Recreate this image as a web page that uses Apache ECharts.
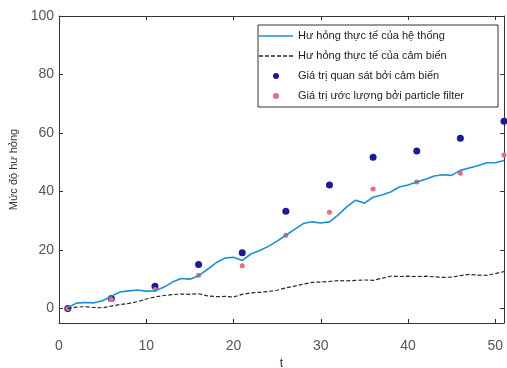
<!DOCTYPE html>
<html>
<head>
<meta charset="utf-8">
<script src="https://cdn.jsdelivr.net/npm/echarts@6/dist/echarts.min.js"></script>
<style>
    html, body { margin: 0; padding: 0; background: #fff; }
    #chart { width: 507px; height: 368px; }
</style>
</head>
<body>
<div id="chart"></div>
<script>
// thời gian (t)
var tAll = [1, 2, 3, 4, 5, 6, 7, 8, 9, 10, 11, 12, 13, 14, 15, 16, 17, 18, 19, 20,
    21, 22, 23, 24, 25, 26, 27, 28, 29, 30, 31, 32, 33, 34, 35, 36, 37, 38, 39, 40,
    41, 42, 43, 44, 45, 46, 47, 48, 49, 50, 51];
// hư hỏng thực tế của hệ thống
var heThong = [0.2, 1.8, 2.0, 1.9, 2.6, 4.2, 5.6, 6.0, 6.3, 5.9, 6.0, 7.2, 9.0, 10.2, 10.0,
    11.2, 13.3, 15.6, 17.2, 17.5, 16.4, 18.6, 19.8, 21.2, 23.0, 25.0, 27.0, 29.0, 29.6, 29.2,
    29.6, 32.0, 34.8, 37.0, 36.0, 38.0, 38.8, 39.8, 41.5, 42.2, 43.2, 44.2, 45.3, 45.7, 45.5,
    47.2, 48.0, 48.8, 49.8, 49.8, 50.6];
// hư hỏng thực tế của cảm biến
var camBien = [0, 0.4, 0.6, 0.3, 0.2, 0.8, 1.3, 1.7, 2.3, 3.2, 3.9, 4.4, 4.7, 4.9, 4.8,
    5.0, 4.3, 4.0, 4.1, 3.9, 4.8, 5.3, 5.5, 5.8, 6.2, 7.0, 7.6, 8.3, 8.9, 9.0,
    9.2, 9.5, 9.4, 9.6, 9.7, 9.6, 10.3, 11.0, 10.9, 11.0, 10.9, 11.0, 10.8, 10.6, 10.7,
    11.2, 11.6, 11.4, 11.3, 11.9, 12.6];
// thời điểm quan sát
var tObs = [1, 6, 11, 16, 21, 26, 31, 36, 41, 46, 51];
var quanSat = [0, 3.4, 7.6, 15.0, 19.0, 33.2, 42.2, 51.7, 53.8, 58.2, 64.0];
var uocLuong = [0, 3.0, 6.5, 11.3, 14.6, 25.0, 32.9, 40.8, 43.2, 46.2, 52.5];

var xTicks = [0, 10, 20, 30, 40, 50];
var yTicks = [0, 20, 40, 60, 80, 100];

var tenSeries = [
    'Hư hỏng thực tế của hệ thống',
    'Hư hỏng thực tế của cảm biến',
    'Giá trị quan sát bởi cảm biến',
    'Giá trị ước lượng bởi particle filter'
];

function ghep(xs, ys) {
    return xs.map(function (x, i) { return [x, ys[i]]; });
}

var mauTruc = '#333';
var fontChu = 'Liberation Sans, Arial, sans-serif';

// biểu tượng chú giải cho hai đường
var iconLien = 'path://M0,0L34,0L34,1.6L0,1.6Z';
var iconNetDut = 'path://M0,0h4v1.3h-4z M6,0h4v1.3h-4z M12,0h4v1.3h-4z M18,0h4v1.3h-4z M24,0h4v1.3h-4z M30,0h4v1.3h-4z';

var myChart = echarts.init(document.getElementById('chart'));

var option = {
    animation: false,
    backgroundColor: '#fff',
    grid: { left: 59, right: 3, top: 16, bottom: 45, outerBoundsMode: 'none' },
    graphic: [{
        type: 'rect',
        z: 5,
        shape: { x: 258, y: 25, width: 240, height: 82 },
        style: { fill: '#fff', stroke: '#333', lineWidth: 1 }
    }],
    legend: {
        z: 6,
        orient: 'vertical',
        left: 259,
        top: 30,
        padding: 0,
        itemWidth: 34,
        itemHeight: 6,
        itemGap: 8,
        textStyle: { fontSize: 11, lineHeight: 12, color: '#222', fontFamily: fontChu },
        data: [
            { name: tenSeries[0], icon: iconLien },
            { name: tenSeries[1], icon: iconNetDut },
            { name: tenSeries[2] },
            { name: tenSeries[3] }
        ]
    },
    xAxis: [{
        type: 'value',
        min: 0,
        max: 51,
        name: 't',
        nameLocation: 'middle',
        nameGap: 31,
        nameTextStyle: { fontSize: 12, color: '#333', fontFamily: fontChu },
        axisLine: { onZero: false, lineStyle: { color: mauTruc } },
        axisTick: { inside: true, length: 4, customValues: xTicks, lineStyle: { color: mauTruc } },
        axisLabel: { customValues: xTicks, margin: 16, fontSize: 14, color: '#555', fontFamily: fontChu },
        splitLine: { show: false }
    }, {
        type: 'value',
        position: 'top',
        min: 0,
        max: 51,
        axisLine: { onZero: false, lineStyle: { color: mauTruc } },
        axisTick: { inside: true, length: 4, customValues: xTicks, lineStyle: { color: mauTruc } },
        axisLabel: { show: false },
        splitLine: { show: false }
    }],
    yAxis: [{
        type: 'value',
        min: -5,
        max: 100,
        name: 'Mức độ hư hỏng',
        nameLocation: 'middle',
        nameGap: 38,
        nameTextStyle: { fontSize: 11, color: '#333', fontFamily: fontChu },
        axisLine: { show: true, onZero: false, lineStyle: { color: mauTruc } },
        axisTick: { show: true, inside: true, length: 4, customValues: yTicks, lineStyle: { color: mauTruc } },
        axisLabel: { customValues: yTicks, margin: 5, fontSize: 14, color: '#555', fontFamily: fontChu },
        splitLine: { show: false }
    }, {
        type: 'value',
        position: 'right',
        min: -5,
        max: 100,
        axisLine: { show: true, onZero: false, lineStyle: { color: mauTruc } },
        axisTick: { show: true, inside: true, length: 4, customValues: yTicks, lineStyle: { color: mauTruc } },
        axisLabel: { show: false },
        splitLine: { show: false }
    }],
    series: [{
        name: tenSeries[0],
        type: 'line',
        symbol: 'none',
        data: ghep(tAll, heThong),
        lineStyle: { color: '#1d8fd6', width: 1.6 },
        itemStyle: { color: '#1d8fd6' }
    }, {
        name: tenSeries[1],
        type: 'line',
        symbol: 'none',
        data: ghep(tAll, camBien),
        lineStyle: { color: '#2a2a2a', width: 1.2, type: [4, 2] },
        itemStyle: { color: '#2a2a2a' }
    }, {
        name: tenSeries[2],
        type: 'scatter',
        symbol: 'circle',
        symbolSize: 7,
        data: ghep(tObs, quanSat),
        itemStyle: { color: '#1a1a9e', opacity: 1 }
    }, {
        name: tenSeries[3],
        type: 'scatter',
        symbol: 'circle',
        symbolSize: 5,
        data: ghep(tObs, uocLuong),
        itemStyle: { color: '#ee6a7c', opacity: 1 }
    }]
};

myChart.setOption(option);
</script>
</body>
</html>
